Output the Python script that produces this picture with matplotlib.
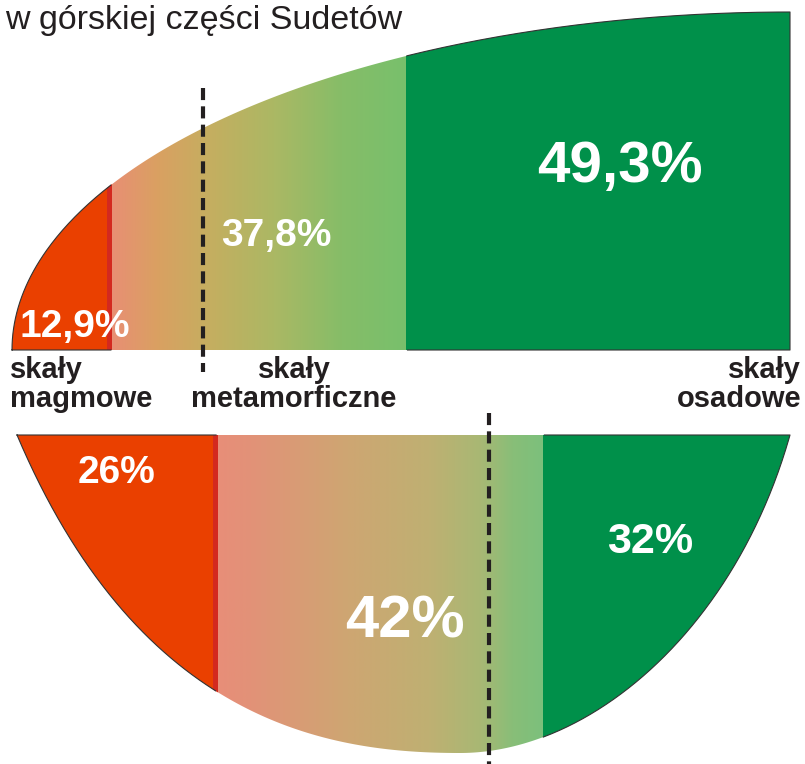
import numpy as np
import matplotlib.pyplot as plt
from matplotlib.patches import Polygon, Rectangle
from matplotlib.colors import LinearSegmentedColormap

plt.rcParams['font.family'] = ['Liberation Sans', 'DejaVu Sans']

title = 'w górskiej części Sudetów'
categories = ['skały\nmagmowe', 'skały\nmetamorficzne', 'skały\nosadowe']
top_values = [12.9, 37.8, 49.3]
top_labels = ['12,9%', '37,8%', '49,3%']
bottom_values = [26, 42, 32]
bottom_labels = ['26%', '42%', '32%']
# dashed divider position, in percent of the shape width
top_divider = 24.5
bottom_divider = 61.0

red = '#ea4000'
red_edge = '#d3291f'
green = '#00904a'
dark = '#231f20'
grad_top = LinearSegmentedColormap.from_list('gt', [
    (0.0, '#e88f74'), (0.15, '#daa062'), (0.33, '#c5ae60'),
    (0.55, '#abb864'), (0.78, '#86bd68'), (1.0, '#78c06c')])
grad_bot = LinearSegmentedColormap.from_list('gb', [
    (0.0, '#e88e78'), (0.1, '#e29278'), (0.4, '#cea672'), (0.65, '#bfb072'),
    (0.81, '#a8b874'), (0.91, '#88be78'), (1.0, '#7cc07c')])


def bezier(p0, p1, p2, p3, n=200):
    t = np.linspace(0, 1, n)[:, None]
    p0, p1, p2, p3 = map(np.array, (p0, p1, p2, p3))
    return (1-t)**3*p0 + 3*(1-t)**2*t*p1 + 3*(1-t)*t**2*p2 + t**3*p3


fig = plt.figure(figsize=(8.05, 7.64), dpi=100)
ax = fig.add_axes([0, 0, 1, 1])

# upper shape: quarter ellipse over a flat base
tx0, tx1, tbase, ttop = 12, 790, 350, 12
th = np.linspace(np.pi, np.pi/2, 300)
arc = np.column_stack([tx1 + (tx1-tx0)*np.cos(th), tbase - (tbase-ttop)*np.sin(th)])
right = np.column_stack([np.full(60, tx1), np.linspace(ttop, tbase, 60)])
base = np.column_stack([np.linspace(tx1, tx0, 300), np.full(300, tbase)])
top_poly = np.vstack([arc, right, base])

# lower shape: flat top with a rounded belly
bx0, bx1, btop = 17, 790, 435
left_curve = bezier((17, 435), (140, 725), (330, 753), (460, 753))
right_curve = bezier((460, 753), (590, 753), (735, 630), (790, 435))
lid = np.column_stack([np.linspace(bx1, bx0, 300), np.full(300, btop)])
bot_poly = np.vstack([left_curve, right_curve, lid])


def draw_shape(poly, x0, x1, values, cmap, ymin, ymax):
    shape = Polygon(poly, closed=True, facecolor='none', edgecolor='none')
    ax.add_patch(shape)
    b = x0 + np.cumsum([0] + values) / sum(values) * (x1 - x0)
    r = Rectangle((b[0]-2, ymin), b[1]-b[0]+2, ymax-ymin, facecolor=red, edgecolor='none')
    ax.add_patch(r)
    r.set_clip_path(shape)
    im = ax.imshow(np.linspace(0, 1, 256).reshape(1, -1), cmap=cmap, aspect='auto',
                   extent=(b[1], b[2], ymax, ymin), interpolation='bilinear')
    im.set_clip_path(shape)
    s = Rectangle((b[1]-5, ymin), 5, ymax-ymin, facecolor=red_edge, edgecolor='none')
    ax.add_patch(s)
    s.set_clip_path(shape)
    g = Rectangle((b[2], ymin), b[3]-b[2]+2, ymax-ymin, facecolor=green, edgecolor='none')
    ax.add_patch(g)
    g.set_clip_path(shape)
    xs = poly[:, 0].copy()
    ys = poly[:, 1].copy()
    mask = (xs > b[1]) & (xs < b[2])
    xs[mask] = np.nan
    ax.plot(np.append(xs, xs[0]), np.append(ys, ys[0]), color='#333333', lw=0.8)
    return b


draw_shape(top_poly, tx0, tx1, top_values, grad_top, ttop, tbase)
draw_shape(bot_poly, bx0, bx1, bottom_values, grad_bot, btop, 755)

# dashed dividers
xd = tx0 + top_divider/100*(tx1-tx0)
ax.plot([xd, xd], [88, 372], color=dark, lw=3, dashes=(2.9, 1.5))
xd = bx0 + bottom_divider/100*(bx1-bx0)
ax.plot([xd, xd], [413, 764], color=dark, lw=3, dashes=(2.9, 1.5))

# percentage labels
top_pos = [(75, 337, 28), (276, 246, 28), (620, 182, 42)]
for lab, (x, y, fs) in zip(top_labels, top_pos):
    ax.text(x, y, lab, color='white', fontsize=fs, fontweight='bold',
            ha='center', va='baseline')
bot_pos = [(116, 483, 28), (405, 637, 43), (650, 553, 31)]
for lab, (x, y, fs) in zip(bottom_labels, bot_pos):
    ax.text(x, y, lab, color='white', fontsize=fs, fontweight='bold',
            ha='center', va='baseline')

# category names
cat_pos = [(10, 'left'), (294, 'center'), (801, 'right')]
for cat, (x, ha) in zip(categories, cat_pos):
    l1, l2 = cat.split('\n')
    ax.text(x, 378, l1, color=dark, fontsize=21, fontweight='bold', ha=ha, va='baseline')
    ax.text(x, 407, l2, color=dark, fontsize=21, fontweight='bold', ha=ha, va='baseline')

ax.text(5, 29, title, color=dark, fontsize=24.5, ha='left', va='baseline')

ax.set_xlim(0, 805)
ax.set_ylim(764, 0)
ax.axis('off')
fig.savefig('out.png', dpi=100)
